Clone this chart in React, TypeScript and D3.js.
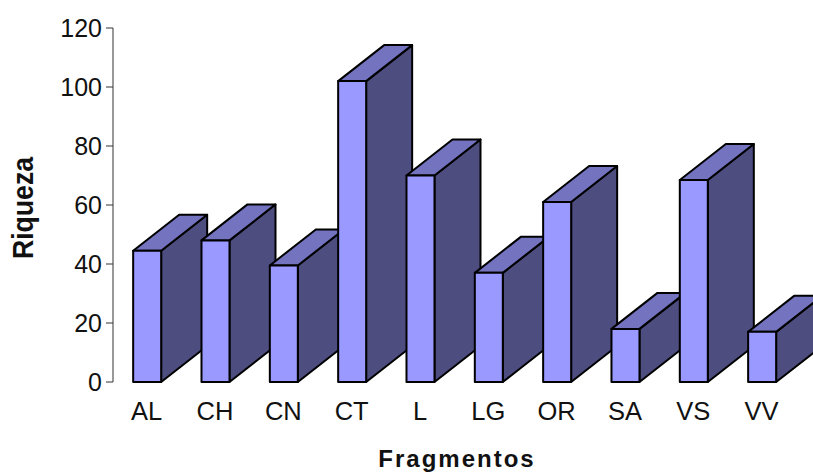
import * as d3 from "d3";

const categories = ["AL", "CH", "CN", "CT", "L", "LG", "OR", "SA", "VS", "VV"];
const riqueza = [44.5, 48, 39.5, 102, 70, 37, 61, 18, 68.5, 17];
const yTicks = [0, 20, 40, 60, 80, 100, 120];

const FONT = "Liberation Sans, Arial, sans-serif";
const DEPTH_X = 46;
const DEPTH_Y = 36;
const BAR_W = 28;

export default function App() {
  const y = d3.scaleLinear().domain([0, 120]).range([382, 28]);
  const x = d3.scaleBand<string>().domain(categories).range([113, 796.3]).paddingInner(0.6).paddingOuter(0.3);
  const cx = (c: string) => (x(c) ?? 0) + x.bandwidth() / 2;

  return (
    <svg width={813} height={473} style={{ position: "fixed", left: 0, top: 0, background: "#fff" }} fontFamily={FONT}>
      <line x1={113} x2={113} y1={y(120)} y2={y(0)} stroke="#333" />
      {yTicks.map((t) => (
        <g key={t}>
          <line x1={106} x2={113} y1={y(t)} y2={y(t)} stroke="#333" />
          <text x={102} y={y(t) + 8.5} textAnchor="end" fontSize={25} fill="#111">{t}</text>
        </g>
      ))}
      {categories.map((c, i) => {
        const x0 = cx(c) - BAR_W / 2;
        const x1 = x0 + BAR_W;
        const top = y(riqueza[i]);
        const base = y(0);
        const side = d3.path();
        side.moveTo(x1, base);
        side.lineTo(x1 + DEPTH_X, base - DEPTH_Y);
        side.lineTo(x1 + DEPTH_X, top - DEPTH_Y);
        side.lineTo(x1, top);
        side.closePath();
        const roof = d3.path();
        roof.moveTo(x0, top);
        roof.lineTo(x0 + DEPTH_X, top - DEPTH_Y);
        roof.lineTo(x1 + DEPTH_X, top - DEPTH_Y);
        roof.lineTo(x1, top);
        roof.closePath();
        return (
          <g key={c} stroke="#000" strokeWidth={2} strokeLinejoin="round">
            <path d={side.toString()} fill="#4d4d80" />
            <path d={roof.toString()} fill="#7373bf" />
            <rect x={x0} y={top} width={BAR_W} height={base - top} fill="#9999ff" />
            <text x={cx(c) - 0.5} y={420} textAnchor="middle" fontSize={25.5} stroke="none" fill="#111">{c}</text>
          </g>
        );
      })}
      <text x={457} y={467} textAnchor="middle" fontSize={24} fontWeight="bold" letterSpacing={2} fill="#111">Fragmentos</text>
      {/* the original axis title is stretched across the text, so scale it rather than resize */}
      <text transform="translate(33,208) rotate(-90) scale(1.11,1.22)" textAnchor="middle" fontSize={24} fontWeight="bold" fill="#111">Riqueza</text>
    </svg>
  );
}
